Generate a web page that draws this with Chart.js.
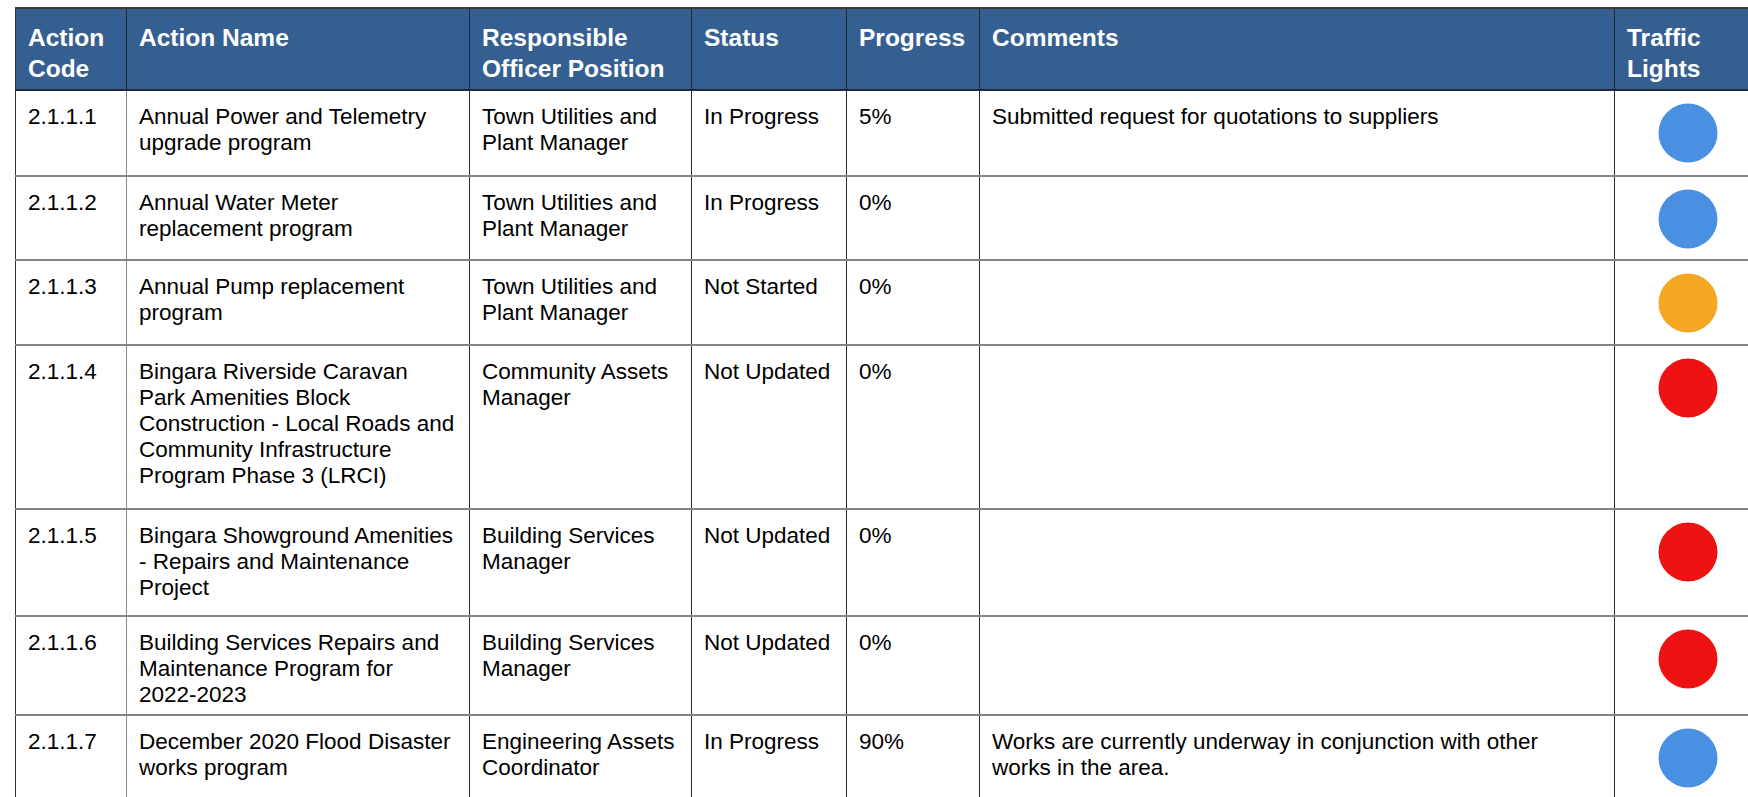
<!DOCTYPE html>
<html>
<head>
<meta charset="utf-8">
<script src="https://cdn.jsdelivr.net/npm/chart.js@4.4.0/dist/chart.umd.min.js"></script>
<style>
  html, body { margin: 0; padding: 0; background: #fff; overflow: hidden; width: 1748px; height: 797px; }
  table {
    position: absolute; left: 15px; top: 7px; width: 1745px;
    border-collapse: collapse; table-layout: fixed;
    font-family: "Liberation Sans", Arial, sans-serif;
    border-top: 2px solid #3a3a3a; border-left: 1px solid #333;
  }
  th {
    background: #365f91; color: #fff; font-weight: bold; font-size: 24.5px; line-height: 31px;
    text-align: left; vertical-align: top; padding: 13px 8px 0 12px;
    border-right: 1px solid #1d2b3e; border-bottom: 2px solid #1f2a38;
    white-space: pre-line; overflow: hidden;
  }
  td {
    font-size: 22.5px; line-height: 26px; color: #000;
    vertical-align: top; padding: 13px 6px 0 12px;
    border-right: 1px solid #2a2a2a; border-bottom: 2px solid #858585;
    white-space: pre-line; overflow: hidden;
  }
  td.code { border-right-color: #8a8a8a; }
  #lights { position: absolute; top: 0; }
</style>
</head>
<body>
<table id="tbl">
  <colgroup>
    <col style="width:111px"><col style="width:343px"><col style="width:222px"><col style="width:155px">
    <col style="width:133px"><col style="width:635px"><col style="width:146px">
  </colgroup>
  <thead><tr id="head"></tr></thead>
  <tbody id="body"></tbody>
</table>
<canvas id="lights"></canvas>
<script>
const headers = ['Action\nCode', 'Action Name', 'Responsible\nOfficer Position', 'Status', 'Progress', 'Comments', 'Traffic\nLights'];
const actionCodes = ['2.1.1.1', '2.1.1.2', '2.1.1.3', '2.1.1.4', '2.1.1.5', '2.1.1.6', '2.1.1.7'];
const actionNames = [
  'Annual Power and Telemetry\nupgrade program',
  'Annual Water Meter\nreplacement program',
  'Annual Pump replacement\nprogram',
  'Bingara Riverside Caravan\nPark Amenities Block\nConstruction - Local Roads and\nCommunity Infrastructure\nProgram Phase 3 (LRCI)',
  'Bingara Showground Amenities\n- Repairs and Maintenance\nProject',
  'Building Services Repairs and\nMaintenance Program for\n2022-2023',
  'December 2020 Flood Disaster\nworks program'
];
const officers = [
  'Town Utilities and\nPlant Manager',
  'Town Utilities and\nPlant Manager',
  'Town Utilities and\nPlant Manager',
  'Community Assets\nManager',
  'Building Services\nManager',
  'Building Services\nManager',
  'Engineering Assets\nCoordinator'
];
const statuses = ['In Progress', 'In Progress', 'Not Started', 'Not Updated', 'Not Updated', 'Not Updated', 'In Progress'];
const progress = [5, 0, 0, 0, 0, 0, 90];
const comments = [
  'Submitted request for quotations to suppliers',
  '', '', '', '', '',
  'Works are currently underway in conjunction with other\nworks in the area.'
];
const trafficLights = ['blue', 'blue', 'amber', 'red', 'red', 'red', 'blue'];

// layout only
const headHeight = 82;
const rowHeights = [86, 84, 85, 164, 107, 99, 90];
const lightColors = { blue: '#4a90e2', amber: '#f5a623', red: '#ee1212' };

const headRow = document.getElementById('head');
headRow.style.height = headHeight + 'px';
headers.forEach(h => {
  const th = document.createElement('th');
  th.textContent = h;
  headRow.appendChild(th);
});

const tbody = document.getElementById('body');
actionCodes.forEach((code, i) => {
  const tr = document.createElement('tr');
  tr.style.height = rowHeights[i] + 'px';
  const cells = [code, actionNames[i], officers[i], statuses[i], progress[i] + '%', comments[i], ''];
  cells.forEach((c, j) => {
    const td = document.createElement('td');
    td.textContent = c;
    if (j === 0) td.className = 'code';
    tr.appendChild(td);
  });
  tbody.appendChild(tr);
});

// traffic lights drawn by Chart.js over the last column
const lastTh = headRow.lastChild.getBoundingClientRect();
const canvas = document.getElementById('lights');
canvas.width = Math.round(lastTh.width);
canvas.height = 797;
canvas.style.left = lastTh.left + 'px';

const rowTops = Array.from(tbody.children).map(tr => tr.getBoundingClientRect().top);
const points = trafficLights.map((t, i) => ({ x: 0.5, y: rowTops[i] + 43 }));

new Chart(canvas.getContext('2d'), {
  type: 'scatter',
  data: {
    datasets: [{
      data: points,
      backgroundColor: trafficLights.map(t => lightColors[t]),
      borderWidth: 0,
      pointRadius: 29.5,
      pointHoverRadius: 29.5
    }]
  },
  options: {
    responsive: false,
    animation: false,
    layout: { padding: 0, autoPadding: false },
    plugins: { legend: { display: false }, tooltip: { enabled: false } },
    scales: {
      x: { type: 'linear', display: false, min: 0, max: 1 },
      y: { type: 'linear', display: false, min: 0, max: 797, reverse: true }
    },
    clip: false
  }
});
</script>
</body>
</html>
